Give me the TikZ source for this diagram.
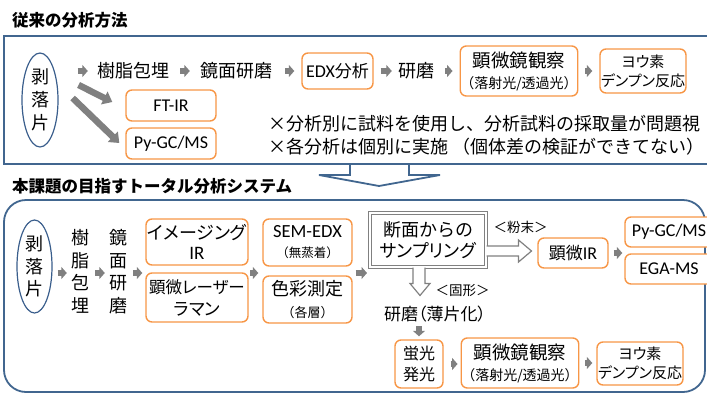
\documentclass[tikz,border=0pt]{standalone}
\usepackage{fontspec}
\setmainfont{Noto Sans CJK JP}
\newfontfamily\pf{Noto Sans CJK JP}[RawFeature=+palt]
\newfontfamily\lat{Carlito}
\usetikzlibrary{shapes.geometric,arrows.meta,calc}
\definecolor{orng}{HTML}{F79646}
\definecolor{frameblue}{HTML}{41668F}
\definecolor{ellblue}{HTML}{3A5E8C}
\definecolor{agray}{HTML}{808080}
\newcommand\fsz[2]{\fontsize{#1}{#2}\selectfont}
\begin{document}
\begin{tikzpicture}[x=1pt,y=-1pt,
 obox/.style={draw=orng, line width=1.4pt, rounded corners=6pt, fill=white, align=center, inner sep=0pt},
 txt/.style={inner sep=0pt, align=center},
 garrow/.style={draw=agray, line width=6pt, -{Triangle[length=5.5pt,width=12pt]}},
 darrow/.style={draw=agray, line width=6.5pt, -{Triangle[length=9pt,width=14pt]}},
 hollow/.style={draw=agray, line width=1.2pt, fill=white, line join=miter},
 ell/.style={ellipse, draw=ellblue, line width=1.2pt, inner sep=0pt, align=center},
 frame/.style={draw=frameblue, line width=1.8pt},
 ttl/.style={anchor=west, inner sep=0pt, font=\fsz{16.5}{18}\bfseries},
]
\useasboundingbox (0,0) rectangle (707,394);
\clip (0,0) rectangle (707,394);

% big down arrow and frames
\fill[white] (350,164) -- (350,175) -- (319,175) -- (379,186) -- (440,175) -- (409,175) -- (409,164) -- cycle;
\draw[frame, line join=miter] (350,164) -- (350,175) -- (319,175) -- (379,186) -- (440,175) -- (409,175) -- (409,164);
\draw[frame] (4,36) rectangle (720,164);
\draw[frame, rounded corners=22pt] (4,200) rectangle (705,392);

% titles
\node[ttl] (t1) at (12,20) {従来の分析方法};
\node[ttl] (t2) at (12,186) {本課題の目指すトータル分析システム};

% ---- upper section
\node[ell, minimum width=36, minimum height=94, font=\fsz{18}{23}] (el1) at (40,100) {剥\\落\\片};
\node[txt, font=\fsz{18}{22}] (jushi) at (133.5,71) {樹脂包埋};
\node[txt, font=\fsz{18}{22}] (kyomen) at (236.5,71) {鏡面研磨};
\node[obox, minimum width=71, minimum height=36, font=\fsz{17}{20}] (edx) at (337.5,71) {{\lat\fsz{18}{20}EDX}分析};
\node[txt, font=\fsz{18}{22}] (kenma) at (416.5,71) {研磨};
\node[obox, minimum width=114, minimum height=50, font=\fsz{18.5}{21}] (kenbi1) at (519,71) {顕微鏡観察\\\fsz{14}{21}（落射光/透過光）};
\node[obox, minimum width=86, minimum height=44, font=\pf\fsz{15}{19}] (youso1) at (643,71) {ヨウ素\\デンプン反応};
\node[obox, minimum width=90, minimum height=31, font=\lat\fsz{18}{20}] (ftir) at (171,105.5) {FT-IR};
\node[obox, minimum width=90, minimum height=31, font=\lat\fsz{18}{20}] (pygc1) at (171,143.5) {Py-GC/MS};
\node[anchor=west, inner sep=0pt, font=\fsz{18}{20}] (note1) at (268,124) {×分析別に試料を使用し、分析試料の採取量が問題視};
\node[anchor=west, inner sep=0pt, font=\fsz{18}{20}] (note2) at (268,147) {×各分析は個別に実施 （個体差の検証ができてない）};

\draw[garrow, shorten <=19pt, shorten >=9.5pt] (el1.east |- jushi.west) -- (jushi.west);
\draw[garrow, shorten <=10.5pt, shorten >=10.5pt] (jushi.east) -- (kyomen.west);
\draw[garrow, shorten <=12.5pt, shorten >=7pt] (kyomen.east) -- (edx.west);
\draw[garrow, shorten <=7pt, shorten >=6.5pt] (edx.east) -- (kenma.west);
\draw[garrow, shorten <=10.5pt, shorten >=7pt] (kenma.east) -- (kenbi1.west);
\draw[garrow, shorten <=7pt, shorten >=7pt] (kenbi1.east) -- (youso1.west);
\draw[darrow] ($(el1.east)+(20,-15)$) -- ($(ftir.west)+(-13,-3.5)$);
\draw[darrow] ($(el1.east)+(14,-2)$) -- ($(pygc1.west)+(-6,-0.5)$);

% ---- lower section
\coordinate (row) at (0,273);
\node[ell, minimum width=35, minimum height=93, font=\fsz{18}{22.5}] (el2) at (34.5,266.5) {剥\\落\\片};
\node[txt, font=\fsz{18}{22.5}] (jushi2) at (80,271.5) {樹\\脂\\包\\埋};
\node[txt, font=\fsz{18}{22.5}] (kyomen2) at (118.5,271.5) {鏡\\面\\研\\磨};
\node[obox, minimum width=102, minimum height=46, font=\pf\fsz{18}{20}] (imaging) at (197,242) {イメージング\\\lat\fsz{19}{20}IR};
\node[obox, minimum width=102, minimum height=49, font=\pf\fsz{16.5}{22}] (raman) at (197,297.5) {顕微レーザー\\\fsz{17.5}{22}ラマン};
\node[obox, minimum width=89, minimum height=47, font=\lat\fsz{18.5}{20}] (sem) at (307.5,242.5) {SEM-EDX\\\rmfamily\fsz{12.5}{20}（無蒸着）};
\node[obox, minimum width=89, minimum height=47, font=\fsz{18}{22}] (color) at (307.5,299.5) {色彩測定\\\fsz{13}{22}（各層）};
\node[draw=agray, double=white, double distance=1.8pt, line width=1.2pt, minimum width=115.8, minimum height=53.8, inner sep=0pt, align=center, font=\fsz{18}{21}] (samp) at (428,240) {断面からの\\\pf サンプリング};
\node[obox, minimum width=70, minimum height=30, font=\fsz{17}{20}] (kenbiIR) at (573,253) {顕微{\lat\fsz{18}{20}IR}};
\node[obox, minimum width=88, minimum height=30, font=\lat\fsz{18}{20}] (pygc2) at (669,232) {Py-GC/MS};
\node[obox, minimum width=88, minimum height=30, font=\lat\fsz{18}{20}] (ega) at (669,269) {EGA-MS};
\node[txt, font=\fsz{13.5}{16}] (funmatsu) at (520.5,227) {＜粉末＞};
\node[txt, font=\fsz{13.5}{16}] (kokei) at (462.5,291) {＜固形＞};
\node[txt, font=\pf\fsz{17}{20}] (kenma2) at (435,314) {研磨（薄片化）};
\node[obox, minimum width=48, minimum height=48, font=\fsz{16}{21}] (keiko) at (419,364) {蛍光\\発光};
\node[obox, minimum width=114, minimum height=50, font=\fsz{18.5}{21}] (kenbi2) at (520,363) {顕微鏡観察\\\fsz{14}{21}（落射光/透過光）};
\node[obox, minimum width=86, minimum height=43, font=\pf\fsz{15}{19}] (youso2) at (640,363.5) {ヨウ素\\デンプン反応};

\draw[garrow, shorten <=5pt, shorten >=4pt] (el2.east |- row) -- (jushi2.west |- row);
\draw[garrow, shorten <=6pt, shorten >=4.5pt] (jushi2.east |- row) -- (kyomen2.west |- row);
\draw[garrow, shorten <=5.5pt, shorten >=3pt] (kyomen2.east |- row) -- (imaging.west |- row);
\draw[garrow, shorten <=1.5pt, shorten >=4pt] (imaging.east |- row) -- (sem.west |- row);
\draw[garrow, shorten <=3pt, shorten >=2.5pt] (sem.east |- row) -- (samp.west |- row);
\draw[garrow, shorten <=5pt, shorten >=2pt] (kenbiIR.east) -- (pygc2.west |- kenbiIR.east);
\draw[garrow] ([yshift=13pt]keiko.north) -- ([yshift=3pt]keiko.north);
\draw[garrow, shorten <=7pt, shorten >=3pt] (keiko.east) -- (kenbi2.west |- keiko.east);
\draw[garrow, shorten <=6pt, shorten >=4pt] (kenbi2.east) -- (youso2.west |- kenbi2.east);

% hollow arrows
\draw[hollow] (samp.east) ++(0,6) -- ++(32,0) -- ++(0,-6) -- ++(13,11) -- ++(-13,11) -- ++(0,-6) -- ++(-32,0);
\draw[hollow] (samp.south) ++(-15,0) -- ++(0,16) -- ++(-3,0) -- ++(10,12) -- ++(10,-12) -- ++(-5,0) -- ++(0,-16);
\end{tikzpicture}
\end{document}
